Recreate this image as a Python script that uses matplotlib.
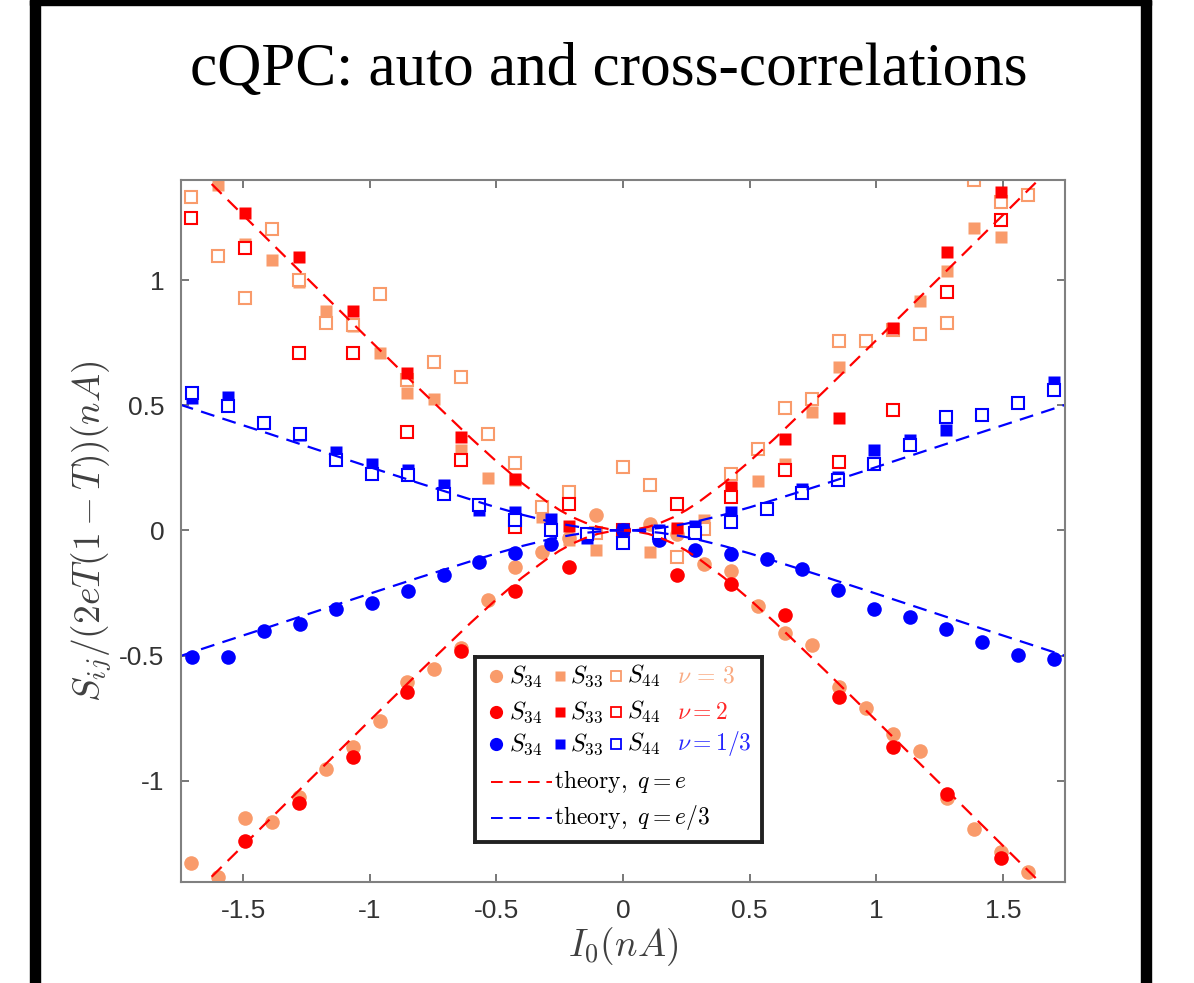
import matplotlib
matplotlib.use("Agg")
import matplotlib.pyplot as plt
from matplotlib.patches import Rectangle

plt.rcParams['mathtext.fontset'] = 'cm'
plt.rcParams['axes.unicode_minus'] = False

# ---- data ----
# nu = 3 (orange): x grid of 1.6/15 nA
x_nu3 = [-1.707, -1.6, -1.493, -1.387, -1.28, -1.173, -1.067, -0.96, -0.853, -0.747, -0.64,
         -0.533, -0.427, -0.32, -0.213, -0.107, 0.0, 0.107, 0.213, 0.32, 0.427, 0.533, 0.64,
         0.747, 0.853, 0.96, 1.067, 1.173, 1.28, 1.387, 1.493, 1.6, 1.707]
s34_nu3 = [-1.329, -1.387, -1.149, -1.167, -1.067, -0.953, -0.867, -0.76, -0.607, -0.553, -0.47,
           -0.277, -0.147, -0.087, -0.03, 0.06, 0.0, 0.027, -0.013, -0.133, -0.164, -0.304, -0.411,
           -0.46, -0.624, -0.709, -0.813, -0.883, -1.071, -1.193, -1.287, -1.367, -1.46]
s33_nu3 = [1.45, 1.38, 1.144, 1.08, 0.993, 0.877, 0.816, 0.709, 0.547, 0.523, 0.323,
           0.209, 0.2, 0.053, -0.04, -0.08, 0.0, -0.087, 0.0, 0.04, 0.17, 0.197, 0.267,
           0.471, 0.653, 0.76, 0.8, 0.916, 1.036, 1.207, 1.173, 1.45, 1.5]
s44_nu3 = [1.333, 1.096, 0.929, 1.204, 1.0, 0.829, 0.82, 0.944, 0.6, 0.671, 0.613,
           0.387, 0.269, 0.093, 0.153, -0.01, 0.253, 0.18, -0.107, 0.007, 0.227, 0.327, 0.487,
           0.523, 0.757, 0.757, 0.8, 0.783, 0.829, 1.4, 1.313, 1.34, 1.5]

# nu = 2 (red): x grid of 3.2/15 nA
x_nu2 = [-1.707, -1.493, -1.28, -1.067, -0.853, -0.64, -0.427, -0.213, 0.0,
         0.213, 0.427, 0.64, 0.853, 1.067, 1.28, 1.493, 1.707]
s34_nu2 = [-1.5, -1.24, -1.091, -0.904, -0.647, -0.48, -0.243, -0.147, 0.0,
           -0.18, -0.216, -0.34, -0.664, -0.864, -1.053, -1.309, -1.5]
s33_nu2 = [1.5, 1.269, 1.091, 0.877, 0.627, 0.373, 0.207, 0.016, 0.0,
           0.011, 0.172, 0.367, 0.451, 0.807, 1.113, 1.353, 1.5]
s44_nu2 = [1.247, 1.127, 0.709, 0.709, 0.393, 0.28, 0.013, 0.107, 0.0,
           0.104, 0.133, 0.24, 0.273, 0.48, 0.953, 1.24, 1.5]

# nu = 1/3 (blue): x grid of 1.7/12 nA
x_nu13 = [-1.7, -1.558, -1.417, -1.275, -1.133, -0.992, -0.85, -0.708, -0.567, -0.425, -0.283,
          -0.142, 0.0, 0.142, 0.283, 0.425, 0.567, 0.708, 0.85, 0.992, 1.133, 1.275, 1.417,
          1.558, 1.7]
s34_nu13 = [-0.504, -0.504, -0.404, -0.373, -0.313, -0.29, -0.243, -0.18, -0.127, -0.089, -0.053,
            -0.02, 0.0, -0.04, -0.077, -0.093, -0.115, -0.156, -0.237, -0.313, -0.347, -0.393,
            -0.447, -0.496, -0.513]
s33_nu13 = [0.53, 0.533, 0.43, 0.38, 0.313, 0.267, 0.243, 0.18, 0.083, 0.073, 0.047,
            -0.03, 0.007, 0.0, 0.016, 0.073, 0.09, 0.167, 0.213, 0.32, 0.36, 0.403,
            0.46, 0.51, 0.593]
s44_nu13 = [0.55, 0.496, 0.431, 0.387, 0.28, 0.227, 0.22, 0.147, 0.1, 0.043, 0.0,
            -0.013, -0.051, -0.01, -0.011, 0.033, 0.087, 0.149, 0.203, 0.267, 0.34, 0.453,
            0.463, 0.507, 0.56]

# theory curves (upper branch; lower branch is the same with opposite sign)
x_theory = [-1.75, -1.6, -1.4, -1.2, -1.0, -0.8, -0.6, -0.5, -0.4, -0.3, -0.25, -0.2, -0.15,
            -0.1, -0.05, 0.0, 0.05, 0.1, 0.15, 0.2, 0.25, 0.3, 0.4, 0.5, 0.6, 0.8, 1.0,
            1.2, 1.4, 1.6, 1.75]
theory_e = [1.51, 1.36, 1.16, 0.96, 0.76, 0.562, 0.368, 0.276, 0.19, 0.114, 0.081, 0.053, 0.031,
            0.014, 0.004, 0.0, 0.004, 0.014, 0.031, 0.053, 0.081, 0.114, 0.19, 0.276, 0.368,
            0.562, 0.76, 0.96, 1.16, 1.36, 1.51]
theory_e3 = [0.503, 0.453, 0.387, 0.32, 0.253, 0.187, 0.123, 0.092, 0.063, 0.038, 0.027, 0.018,
             0.010, 0.005, 0.001, 0.0, 0.001, 0.005, 0.010, 0.018, 0.027, 0.038, 0.063, 0.092,
             0.123, 0.187, 0.253, 0.32, 0.387, 0.453, 0.503]

ORANGE = '#F99B6B'
RED = '#FF0000'
BLUE = '#0000FF'
GRAY = '#404040'
DASH = (6.3, 3.8)

fig = plt.figure(figsize=(11.94, 9.83), dpi=100)

# black frame around the slide
fig.add_artist(Rectangle((30/1194, 0), 10/1194, 1, transform=fig.transFigure, color='black'))
fig.add_artist(Rectangle((1141/1194, 0), 10/1194, 1, transform=fig.transFigure, color='black'))
fig.add_artist(Rectangle((30/1194, 1-5/983), 1121/1194, 5/983, transform=fig.transFigure, color='black'))

fig.text(609/1194, 1-70/983, 'cQPC: auto and cross-correlations', ha='center', va='center',
         fontsize=44, family='Liberation Serif')

ax = fig.add_axes([181/1194, 1-882/983, 884/1194, 702/983])

groups = [(x_nu3, s34_nu3, s33_nu3, s44_nu3, ORANGE),
          (x_nu2, s34_nu2, s33_nu2, s44_nu2, RED),
          (x_nu13, s34_nu13, s33_nu13, s44_nu13, BLUE)]
for xs, s34, s33, s44, c in groups:
    ax.plot(xs, s34, 'o', color=c, ms=10.5, mec='none')
    ax.plot(xs, s33, 's', color=c, ms=8.5, mec='none')
    ax.plot(xs, s44, 's', mfc='white', mec=c, ms=8, mew=1.5)

for ys, c in [(theory_e, RED), (theory_e3, BLUE)]:
    ax.plot(x_theory, ys, color=c, lw=1.6, dashes=DASH)
    ax.plot(x_theory, [-v for v in ys], color=c, lw=1.6, dashes=DASH)

ax.set_xlim(-1.745, 1.745)
ax.set_ylim(-1.405, 1.4)
ax.set_xticks([-1.5, -1, -0.5, 0, 0.5, 1, 1.5])
ax.set_xticklabels(['-1.5', '-1', '-0.5', '0', '0.5', '1', '1.5'])
ax.set_yticks([-1, -0.5, 0, 0.5, 1])
ax.set_yticklabels(['-1', '-0.5', '0', '0.5', '1'])
ax.tick_params(direction='in', length=6, width=1.2, color='#606060', top=True, right=True,
               labelsize=19, labelcolor='#333333', pad=12)
for lab in ax.get_xticklabels() + ax.get_yticklabels():
    lab.set_family('Liberation Sans')
for sp in ax.spines.values():
    sp.set_color('#808080')
    sp.set_linewidth(1.5)

ax.set_xlabel('$I_0(nA)$', fontsize=27, color=GRAY, labelpad=2)
ax.set_ylabel('$S_{ij}/(2eT(1-T))(nA)$', fontsize=27, color=GRAY, labelpad=4)

# hand-built legend box, pixel coordinates
leg = fig.add_axes([475/1194, 1-842/983, 287/1194, 185/983])
leg.set_xlim(475, 762)
leg.set_ylim(842, 657)
leg.set_xticks([])
leg.set_yticks([])
for sp in leg.spines.values():
    sp.set_linewidth(2.8)
    sp.set_color('#222222')
rows = [(ORANGE, r'$\nu\,=\,3$', 676), (RED, r'$\nu = 2$', 712), (BLUE, r'$\nu = 1/3$', 744)]
for c, nu, y in rows:
    leg.plot([496], [y], 'o', color=c, ms=9.5, mec='none')
    leg.text(509, y, '$S_{34}$', fontsize=17.5, va='center')
    leg.plot([560], [y], 's', color=c, ms=6.5, mec='none')
    leg.text(570, y, '$S_{33}$', fontsize=17.5, va='center')
    leg.plot([616], [y], 's', mfc='white', mec=c, ms=6.5, mew=1.3)
    leg.text(627, y, '$S_{44}$', fontsize=17.5, va='center')
    leg.text(677, y, nu, fontsize=17, va='center', color=c, alpha=0.85)
for c, lab, y in [(RED, r'$\mathrm{theory,}\ q = e$', 782), (BLUE, r'$\mathrm{theory,}\ q = e/3$', 818)]:
    leg.plot([491, 552], [y, y], color=c, lw=1.4, dashes=(6, 3.5))
    leg.text(554, y, lab, fontsize=17, va='center')

fig.savefig('out.png', dpi=100)
